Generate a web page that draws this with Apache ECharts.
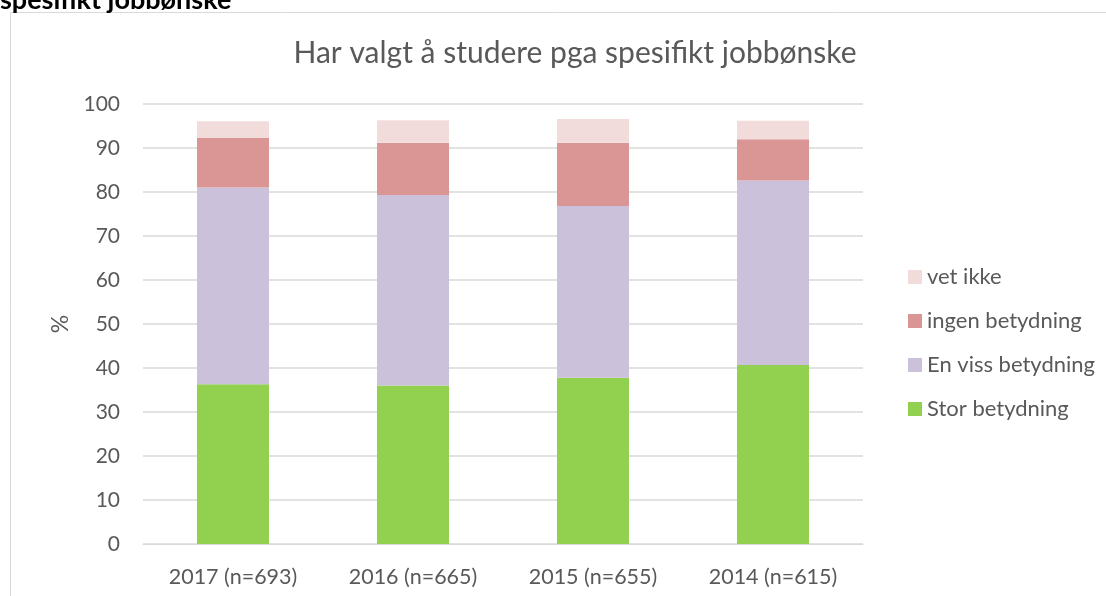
<!DOCTYPE html>
<html>
<head>
<meta charset="utf-8">
<script src="https://cdn.jsdelivr.net/npm/echarts@6/dist/echarts.min.js"></script>
<style>
  html, body { margin: 0; padding: 0; background: #fff; }
  #chart { width: 1106px; height: 596px; }
</style>
</head>
<body>
<div id="chart"></div>
<script>
const categories = ['2017 (n=693)', '2016 (n=665)', '2015 (n=655)', '2014 (n=615)']
const storBetydning = [36.3, 36.0, 37.8, 40.7]
const enVissBetydning = [44.7, 43.3, 39.0, 41.9]
const ingenBetydning = [11.3, 11.9, 14.4, 9.4]
const vetIkke = [3.8, 5.1, 5.4, 4.2]
const legendOrder = ['vet ikke', 'ingen betydning', 'En viss betydning', 'Stor betydning']

const textColor = '#595959'
const gridColor = '#d9d9d9'
const font = 'Lato, "Open Sans", sans-serif'

const chart = echarts.init(document.getElementById('chart'))

const makeBar = (name, data, color) => ({
  name: name,
  type: 'bar',
  stack: 'total',
  barWidth: '40%',
  data: data,
  itemStyle: { color: color },
  emphasis: { disabled: true }
})

const option = {
  backgroundColor: '#fff',
  animation: false,
  textStyle: { fontFamily: font },
  title: {
    text: 'Har valgt å studere pga spesifikt jobbønske',
    left: 570,
    top: 33,
    textAlign: 'center',
    textStyle: { color: textColor, fontSize: 30, fontWeight: 'normal', fontFamily: font }
  },
  graphic: [
    {
      type: 'rect',
      shape: { x: 10.5, y: 12.5, width: 1200, height: 700 },
      style: { fill: 'none', stroke: gridColor, lineWidth: 1 },
      silent: true
    },
    {
      type: 'text',
      x: 0,
      y: 14,
      style: {
        text: 'spesifikt jobbønske',
        fill: '#000',
        font: 'bold 27px ' + font,
        verticalAlign: 'bottom'
      }
    }
  ],
  legend: {
    orient: 'vertical',
    left: 903,
    top: 261,
    itemWidth: 14,
    itemHeight: 14,
    itemGap: 22,
    icon: 'rect',
    data: legendOrder,
    selectedMode: false,
    textStyle: { color: textColor, fontSize: 22, fontFamily: font }
  },
  grid: {
    left: 143,
    right: 243,
    top: 104,
    bottom: 52
  },
  xAxis: {
    type: 'category',
    data: categories,
    axisLine: { lineStyle: { color: gridColor, width: 1 } },
    axisTick: { show: false },
    axisLabel: { color: textColor, fontSize: 21.5, margin: 22, fontFamily: font }
  },
  yAxis: {
    type: 'value',
    min: 0,
    max: 100,
    interval: 10,
    name: '%',
    nameLocation: 'middle',
    nameGap: 70,
    nameRotate: 90,
    nameTextStyle: { color: textColor, fontSize: 23, fontFamily: font },
    axisLine: { show: false },
    axisTick: { show: false },
    axisLabel: { color: textColor, fontSize: 21, margin: 23, fontFamily: font },
    splitLine: { lineStyle: { color: gridColor, width: 1.5 } }
  },
  series: [
    makeBar('Stor betydning', storBetydning, '#92d050'),
    makeBar('En viss betydning', enVissBetydning, '#ccc1da'),
    makeBar('ingen betydning', ingenBetydning, '#d99694'),
    makeBar('vet ikke', vetIkke, '#f2dcdb')
  ]
}

chart.setOption(option)
</script>
</body>
</html>
